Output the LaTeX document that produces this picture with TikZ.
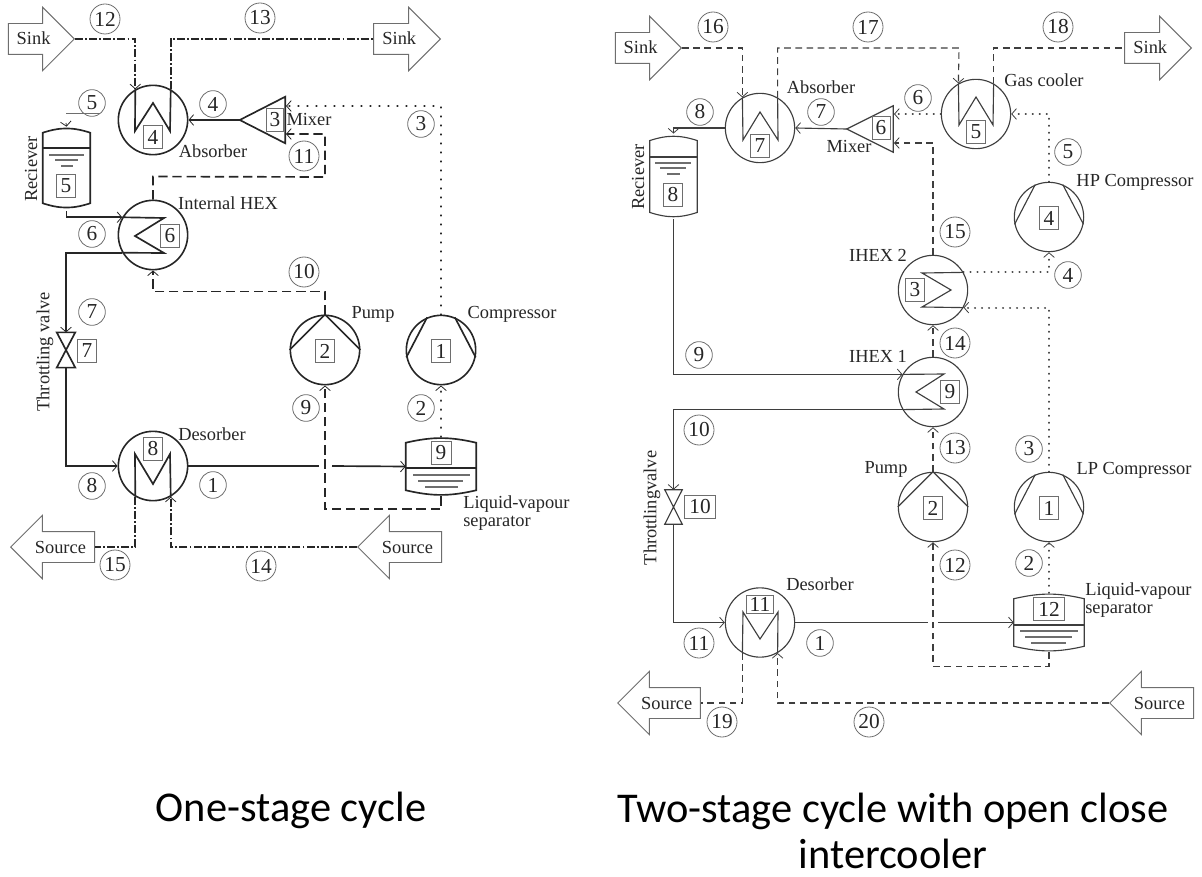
\documentclass[tikz,border=0pt]{standalone}
\usepackage{fontspec}
\setmainfont{Liberation Serif}
\newfontfamily\capfont{Carlito}
\usetikzlibrary{calc, shapes.arrows, arrows.meta, positioning}
\definecolor{inkdark}{RGB}{38,38,38}
\definecolor{inkmid}{RGB}{62,62,62}
\definecolor{inkgrey}{RGB}{110,110,110}

\begin{document}
\begin{tikzpicture}[
        x=0.75pt, y=-0.75pt,
        every node/.style = {text=inkdark},
        unit/.style = {circle, minimum size=52pt, inner sep=0pt},
        unitL/.style = {unit, draw=inkdark, line width=1.2pt},
        unitR/.style = {unit, draw=inkmid, line width=0.85pt},
        frame/.style = {rectangle, inner sep=0pt},
        num/.style = {draw=inkgrey, rectangle, line width=0.6pt, inner sep=0pt, minimum width=14.5pt, minimum height=17pt, font=\fontsize{16}{16}\selectfont},
        tag/.style = {draw=inkgrey, circle, line width=0.6pt, inner sep=0pt, minimum size=20pt, font=\fontsize{16}{16}\selectfont},
        tagw/.style = {tag, minimum size=22.5pt},
        lbl/.style = {font=\fontsize{13.8}{13}\selectfont, inner sep=0pt, align=left},
        flow/.style = {draw=inkgrey, single arrow, line width=0.7pt, inner xsep=0pt, inner ysep=6.75pt, text height=9pt, text depth=0pt, minimum width=47pt, single arrow head extend=12.2pt, single arrow tip angle=90, font=\fontsize{13.8}{14}\selectfont},
        pipeL/.style = {draw=inkdark, line width=1.25pt},
        pipeR/.style = {draw=inkmid, line width=0.85pt},
        arrL/.style = {pipeL, -{Straight Barb[length=3.5pt, width=8pt, line width=0.6pt]}},
        arrR/.style = {pipeR, -{Straight Barb[length=3.5pt, width=8pt, line width=0.6pt]}},
        dashL/.style = {dash pattern=on 7pt off 3.6pt},
        dashR/.style = {dash pattern=on 5pt off 3.4pt},
        dotL/.style = {line width=1.9pt, line cap=round, dash pattern=on 0.1pt off 6.65pt},
        dotR/.style = {line width=1.6pt, line cap=round, dash pattern=on 0.1pt off 5.15pt},
        chain/.style = {dash pattern=on 6pt off 1.6pt on 1.4pt off 1.6pt}
    ]
    \useasboundingbox (0,0) rectangle (1202,877);

    % ---- One-stage cycle ----
    % Units
    \node (absL) [unitL] at (153,120) {};
    \node (hexL) [unitL] at (153,235) {};
    \node (desL) [unitL] at (153,466) {};
    \node (pumpL) [unitL] at (325,350) {};
    \node (compL) [unitL] at (441,350) {};
    \node (mixL) [frame, minimum width=33.75pt, minimum height=34.5pt] at (262.5,120) {};
    \node (valveL) [frame, minimum width=13.5pt, minimum height=26pt] at (66,350) {};
    \node (recvL) [frame, minimum width=35.25pt, minimum height=63pt] at (66.5,169) {};
    \node (sepL) [frame, minimum width=52.5pt, minimum height=44.25pt] at (441,466.5) {};

    % Unit symbols
    \draw [pipeL] (absL.120) -- (135,131) -- (153,103) -- (170,131) -- (absL.60);
    \draw [pipeL] (desL.-120) -- (135,454) -- (153,484) -- (170,454) -- (desL.-60);
    \draw [pipeL] (pumpL.90) -- (pumpL.180) (pumpL.90) -- (pumpL.0);
    \draw [pipeL] (compL.113) -- (compL.192) (compL.67) -- (compL.-12);
    \draw [pipeL] (mixL.west) -- (mixL.north east) -- (mixL.south east) -- cycle;
    \draw [pipeL] (valveL.north west) -- (valveL.north east) -- (valveL.south west) -- (valveL.south east) -- cycle;
    \draw [pipeL] ($(recvL.north west)+(0,6)$) to[bend left=18] ($(recvL.north east)+(0,6)$) -- ($(recvL.south east)+(0,-8)$) to[bend left=18] ($(recvL.south west)+(0,-8)$) -- cycle;
    \draw [pipeL, line width=0.8pt] (43,148) -- (90,148);
    \draw [draw=inkgrey, line width=0.8pt] (49,155) -- (84,155) (55,160) -- (78,160) (61,166) -- (73,166);
    \draw [pipeL] ($(sepL.north west)+(0,6)$) to[bend left=13] ($(sepL.north east)+(0,6)$) -- ($(sepL.south east)+(0,-6)$) to[bend left=13] ($(sepL.south west)+(0,-6)$) -- cycle;
    \draw [pipeL, line width=0.8pt] (406,468) -- (476,468);
    \draw [draw=inkgrey, line width=0.8pt] (413,475) -- (470,475) (418,481) -- (463,481) (425,487) -- (458,487);

    % Unit numbers
    \node (n4L) [num] at (153,137) {4};
    \node (n6L) [num] at (170,236) {6};
    \node (n8L) [num] at (153,449) {8};
    \node (n2L) [num] at (325,351) {2};
    \node (n1L) [num] at (441,351) {1};
    \node (n3L) [num, minimum width=12.5pt] at (275,120) {3};
    \node (n7L) [num] at (87,351) {7};
    \node (n5L) [num] at (66,186) {5};
    \node (n9L) [num, minimum width=15pt] at (441,453) {9};

    % Sink and source
    \node (sinkLa) [flow, minimum height=49.5pt, anchor=tip] at (75,39) {Sink};
    \node (sinkLb) [flow, minimum height=50pt, anchor=tip] at (441,39) {Sink};
    \node (srcLa) [flow, minimum height=63pt, shape border rotate=180, anchor=tip] at (10,547) {Source};
    \node (srcLb) [flow, minimum height=63pt, shape border rotate=180, anchor=tip] at (357,547) {Source};

    % Labels
    \node (lAbsL) [lbl] at (213,151) {Absorber};
    \node (lHexL) [lbl] at (228,203) {Internal HEX};
    \node (lMixL) [lbl] at (309,120) {Mixer};
    \node (lRecvL) [lbl, rotate=90] at (31,169) {Reciever};
    \node (lValveL) [lbl, rotate=90] at (45,352) {Throttling valve};
    \node (lDesL) [lbl] at (212,434) {Desorber};
    \node (lPumpL) [lbl] at (373,314) {Pump};
    \node (lCompL) [lbl] at (512,314) {Compressor};
    \node (lSepL) [lbl, anchor=west] at (463,513) {Liquid-vapour\\separator};

    % Stream numbers
    \node (s12L) [tagw] at (105,19) {12};
    \node (s13L) [tagw] at (260,18) {13};
    \node (s5L) [tag] at (92,103) {5};
    \node (s4L) [tag] at (213,104) {4};
    \node (s3L) [tag] at (421,124) {3};
    \node (s11L) [tagw] at (304,156) {11};
    \node (s6L) [tag] at (92,234) {6};
    \node (s10L) [tagw] at (304,272) {10};
    \node (s7L) [tag] at (92,312) {7};
    \node (s9L) [tag] at (306,408) {9};
    \node (s2L) [tag] at (421,408) {2};
    \node (s8L) [tag] at (92,486) {8};
    \node (s1L) [tag] at (213,485) {1};
    \node (s15L) [tagw] at (115,565) {15};
    \node (s14L) [tagw] at (261,566) {14};

    % Connectors
    \coordinate (fiveL) at (66,113);
    \coordinate (fiveLb) at (66,123);
    \coordinate (gapLa) at (319,466);
    \coordinate (gapLb) at (332,466);
    \coordinate (mixLa) at (286,106);
    \coordinate (mixLb) at (286,134);
    \draw [draw=inkgrey, line width=0.6pt] (fiveL) -- ++(34,0);
    \draw [arrL, line width=0.6pt] (fiveLb) -- (recvL.north);
    \draw [arrL] (mixL.west) -- (absL.east);
    \draw [arrL] (recvL.south) |- (hexL.150);
    \draw [pipeL] (hexL.150) -- (164,218) -- (135,236) -- (164,253) -- (hexL.-150);
    \draw [arrL] (hexL.-150) -| (valveL.north);
    \draw [arrL] (valveL.south) |- (desL.west);
    \draw [pipeL] (desL.east) -- (gapLa);
    \draw [arrL] (gapLb) -- (sepL.west);
    \draw [arrL, chain] (sinkLa.tip) -| (absL.120);
    \draw [pipeL, chain] (absL.60) |- (sinkLb.tail);
    \draw [pipeL, chain] (desL.-120) |- (srcLa.tail);
    \draw [arrL, chain] (srcLb.tip) -| (desL.-60);
    \draw [arrL, dashL] (pumpL.north) -- ++(0,-23) -| (hexL.south);
    \draw [arrL, dashL] (hexL.north) -- ++(0,-23) -- (325,177) |- (mixLb);
    \draw [arrL, dashL] (sepL.south) -- ++(0,13) -| (pumpL.south);
    \draw [arrL, dotL] (sepL.north) -- (compL.south);
    \draw [arrL, dotL] (compL.north) |- (mixLa);

    % ---- Two-stage cycle ----
    % Units
    \node (absR) [unitR] at (760,128) {};
    \node (coolR) [unitR] at (976,114) {};
    \node (hexaR) [unitR] at (933,392) {};
    \node (hexbR) [unitR] at (933,290) {};
    \node (desR) [unitR] at (760,622.5) {};
    \node (pumpR) [unitR] at (933,507) {};
    \node (compaR) [unitR] at (1049,507) {};
    \node (compbR) [unitR] at (1049,217) {};
    \node (mixR) [frame, minimum width=34.5pt, minimum height=34.5pt] at (870,129) {};
    \node (valveR) [frame, minimum width=12.75pt, minimum height=25.5pt] at (673.5,507) {};
    \node (recvR) [frame, minimum width=35.25pt, minimum height=64pt] at (673.5,176.5) {};
    \node (sepR) [frame, minimum width=52.5pt, minimum height=44.25pt] at (1049,622.5) {};

    % Unit symbols
    \draw [pipeR] (absR.120) -- (743,140) -- (760,112) -- (778,140) -- (absR.60);
    \draw [pipeR] (coolR.120) -- (959,125) -- (976,97) -- (993,125) -- (coolR.60);
    \draw [pipeR] (desR.-120) -- (743,612) -- (760,639) -- (778,612) -- (desR.-60);
    \draw [pipeR] (pumpR.90) -- (pumpR.180) (pumpR.90) -- (pumpR.0);
    \draw [pipeR] (compaR.113) -- (compaR.192) (compaR.67) -- (compaR.-12);
    \draw [pipeR] (compbR.113) -- (compbR.192) (compbR.67) -- (compbR.-12);
    \draw [pipeR] (mixR.west) -- (mixR.north east) -- (mixR.south east) -- cycle;
    \draw [pipeR] (valveR.north west) -- (valveR.north east) -- (valveR.south west) -- (valveR.south east) -- cycle;
    \draw [pipeR] ($(recvR.north west)+(0,7)$) to[bend left=18] ($(recvR.north east)+(0,7)$) -- ($(recvR.south east)+(0,-7)$) to[bend left=18] ($(recvR.south west)+(0,-7)$) -- cycle;
    \draw [pipeR] (650,157) -- (697,157);
    \draw [draw=inkgrey, line width=0.8pt] (655,163) -- (691,163) (660,168) -- (686,168) (667,174) -- (680,174);
    \draw [pipeR] ($(sepR.north west)+(0,6)$) to[bend left=13] ($(sepR.north east)+(0,6)$) -- ($(sepR.south east)+(0,-6)$) to[bend left=13] ($(sepR.south west)+(0,-6)$) -- cycle;
    \draw [pipeR] (1014,625) -- (1084,625);
    \draw [draw=inkgrey, line width=0.8pt] (1020,631) -- (1078,631) (1025,637) -- (1072,637) (1031,643) -- (1066,643);

    % Unit numbers
    \node (n7R) [num] at (760,146) {7};
    \node (n5R) [num] at (976,132) {5};
    \node (n6R) [num, minimum width=13.5pt] at (881,128) {6};
    \node (n8R) [num] at (673,195) {8};
    \node (n4R) [num] at (1049,218) {4};
    \node (n3R) [num] at (915,290) {3};
    \node (n9R) [num] at (950,392) {9};
    \node (n2R) [num] at (933,508) {2};
    \node (n1R) [num] at (1049,508) {1};
    \node (n10R) [num, minimum width=23pt] at (700,507) {10};
    \node (n11R) [num, minimum width=20pt, minimum height=13pt] at (760,604.5) {11};
    \node (n12R) [num, minimum width=23pt] at (1049,609) {12};

    % Sink and source
    \node (sinkRa) [flow, minimum height=49.5pt, anchor=tip] at (682,48) {Sink};
    \node (sinkRb) [flow, minimum height=50pt, anchor=tip] at (1192,48) {Sink};
    \node (srcRa) [flow, minimum height=62pt, shape border rotate=180, anchor=tip] at (617,703) {Source};
    \node (srcRb) [flow, minimum height=63pt, shape border rotate=180, anchor=tip] at (1109,703) {Source};

    % Labels
    \node (lAbsR) [lbl] at (821,87) {Absorber};
    \node (lCoolR) [lbl] at (1044,80) {Gas cooler};
    \node (lMixR) [lbl] at (849,147) {Mixer};
    \node (lRecvR) [lbl, rotate=90] at (638,177) {Reciever};
    \node (lCompbR) [lbl] at (1135,182) {HP Compressor};
    \node (lHexbR) [lbl] at (878,255) {IHEX 2};
    \node (lHexaR) [lbl] at (878,356) {IHEX 1};
    \node (lValveR) [lbl, rotate=90] at (652,508) {Throttlingvalve};
    \node (lPumpR) [lbl] at (886,469) {Pump};
    \node (lCompaR) [lbl] at (1134,470) {LP Compressor};
    \node (lDesR) [lbl] at (820,584) {Desorber};
    \node (lSepR) [lbl, anchor=west] at (1085,600) {Liquid-vapour\\separator};

    % Stream numbers
    \node (s16R) [tagw] at (713,27) {16};
    \node (s17R) [tagw] at (868,27) {17};
    \node (s18R) [tagw] at (1058,27) {18};
    \node (s8R) [tag] at (700,112) {8};
    \node (s7R) [tag] at (821,112) {7};
    \node (s6R) [tag] at (918,98) {6};
    \node (s5R) [tag] at (1068,152) {5};
    \node (s15R) [tagw] at (955,232) {15};
    \node (s4R) [tag] at (1068,275) {4};
    \node (s14R) [tagw] at (955,343) {14};
    \node (s9R) [tag] at (699,355) {9};
    \node (s10R) [tagw] at (699,430) {10};
    \node (s13R) [tagw] at (955,448) {13};
    \node (s3R) [tag] at (1029,449) {3};
    \node (s2R) [tag] at (1029,563) {2};
    \node (s12R) [tagw] at (955,565) {12};
    \node (s11R) [tagw] at (699,643) {11};
    \node (s1R) [tag] at (820,643) {1};
    \node (s19R) [tagw] at (722,722) {19};
    \node (s20R) [tagw] at (869,722) {20};

    % Connectors
    \coordinate (gapRa) at (928,622.5);
    \coordinate (gapRb) at (938,622.5);
    \coordinate (mixRa) at (894,114);
    \coordinate (mixRb) at (894,143);
    \draw [arrR] (mixR.west) -- (absR.east);
    \draw [arrR] (absR.west) -| (recvR.north);
    \draw [arrR] (recvR.south) |- (hexaR.150);
    \draw [pipeR] (hexaR.150) -- (944,374) -- (916,392) -- (944,409) -- (hexaR.-150);
    \draw [arrR] (hexaR.-150) -| (valveR.north);
    \draw [arrR] (valveR.south) |- (desR.west);
    \draw [pipeR] (desR.east) -- (gapRa);
    \draw [arrR] (gapRb) -- (sepR.west);
    \draw [arrR, dashR] (sinkRa.tip) -| (absR.120);
    \draw [arrR, dashR] (absR.60) |- (959,48) -- (coolR.120);
    \draw [pipeR, dashR] (coolR.60) |- (sinkRb.tail);
    \draw [pipeR, dashR] (desR.-120) |- (srcRa.tail);
    \draw [arrR, dashR] (srcRb.tip) -| (desR.-60);
    \draw [arrR, dashR] (sepR.south) -- ++(0,14) -| (pumpR.south);
    \draw [arrR, dashR] (pumpR.north) -- (hexaR.south);
    \draw [arrR, dashR] (hexaR.north) -- (hexbR.south);
    \draw [arrR, dashR] (hexbR.north) |- (mixRb);
    \draw [arrR, dotR] (sepR.north) -- (compaR.south);
    \draw [arrR, dotR] (compaR.north) |- (hexbR.-30);
    \draw [pipeR] (hexbR.-30) -- (922,307) -- (951,290) -- (922,273) -- (hexbR.30);
    \draw [arrR, dotR] (hexbR.30) -| (compbR.south);
    \draw [arrR, dotR] (compbR.north) |- (coolR.east);
    \draw [arrR, dotR] (coolR.west) -- (mixRa);

    % Captions
    \node (capL) [font=\capfont\fontsize{31.8}{34.5}\selectfont, inner sep=0pt, text=black] at (291,810) {One-stage cycle};
    \node (capR) [font=\capfont\fontsize{31.8}{34.5}\selectfont, inner sep=0pt, text=black, align=center] at (893,831) {Two-stage cycle with open close\\intercooler};
\end{tikzpicture}
\end{document}
